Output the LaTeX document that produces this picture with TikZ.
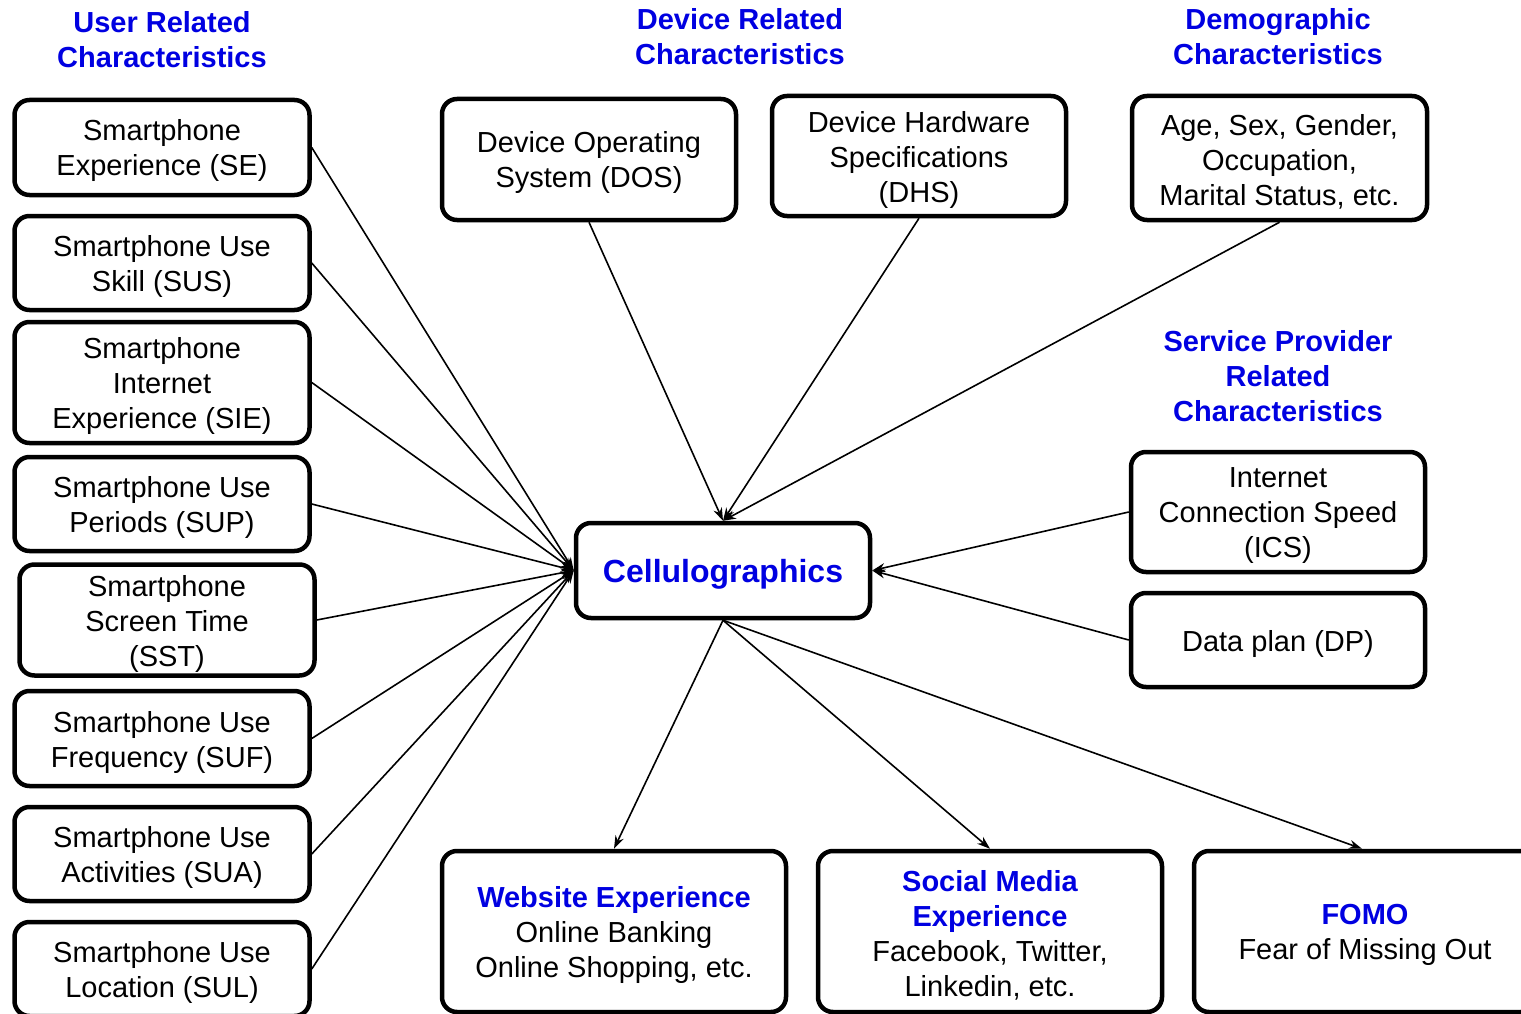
\documentclass[tikz,border=0pt]{standalone}
\usepackage{fontspec}
\setmainfont{Liberation Sans}
\usetikzlibrary{arrows.meta}
\definecolor{headblue}{RGB}{0,0,225}
\tikzset{
  box/.style={draw, line width=4.5pt, rounded corners=15pt, inner sep=0pt, fill=white},
  txt/.style={align=center, inner sep=0pt, yshift=-3.5pt, font=\fontsize{29}{35}\selectfont},
  head/.style={align=center, text=headblue, font=\fontsize{29}{35}\selectfont\bfseries},
  link/.style={line width=1.6pt, -{Stealth[length=13pt,width=9pt]}},
}
\newcommand{\hb}[1]{{\color{headblue}\bfseries #1}}
\begin{document}
\begin{tikzpicture}[x=1pt,y=-1pt]
\useasboundingbox (0,0) rectangle (1521,1014);

% group headings
\node[head] (hUser) at (162,40) {User Related\\Characteristics};
\node[head] (hDev) at (740,37) {Device Related\\Characteristics};
\node[head] (hDemo) at (1278,37) {Demographic\\Characteristics};
\node[head] (hSP) at (1278,376) {Service Provider\\Related\\Characteristics};

% user related characteristics
\node[box, minimum width=295pt, minimum height=95pt] (se) at (162,147.5) {};
\node[txt] (seT) at (se.center) {Smartphone\\Experience (SE)};
\node[box, minimum width=295pt, minimum height=94pt] (sus) at (162,263) {};
\node[txt] (susT) at (sus.center) {Smartphone Use\\Skill (SUS)};
\node[box, minimum width=295pt, minimum height=121pt] (sie) at (162,382.5) {};
\node[txt] (sieT) at (sie.center) {Smartphone\\Internet\\Experience (SIE)};
\node[box, minimum width=295pt, minimum height=94pt] (sup) at (162,504) {};
\node[txt] (supT) at (sup.center) {Smartphone Use\\Periods (SUP)};
\node[box, minimum width=295pt, minimum height=111pt] (sst) at (167,620) {};
\node[txt] (sstT) at (sst.center) {Smartphone\\Screen Time\\(SST)};
\node[box, minimum width=295pt, minimum height=95pt] (suf) at (162,738.5) {};
\node[txt] (sufT) at (suf.center) {Smartphone Use\\Frequency (SUF)};
\node[box, minimum width=295pt, minimum height=94pt] (sua) at (162,854) {};
\node[txt] (suaT) at (sua.center) {Smartphone Use\\Activities (SUA)};
\node[box, minimum width=295pt, minimum height=94pt] (sul) at (162,969) {};
\node[txt] (sulT) at (sul.center) {Smartphone Use\\Location (SUL)};

% device related and demographic characteristics
\node[box, minimum width=294pt, minimum height=121pt] (dos) at (589,159.5) {};
\node[txt] (dosT) at (dos.center) {Device Operating\\System (DOS)};
\node[box, minimum width=294pt, minimum height=120pt] (dhs) at (919,156) {};
\node[txt] (dhsT) at (dhs.center) {Device Hardware\\Specifications\\(DHS)};
\node[box, minimum width=295pt, minimum height=124pt] (demo) at (1279.5,158) {};
\node[txt] (demoT) at (demo.center) {Age, Sex, Gender,\\Occupation,\\Marital Status, etc.};

% service provider related characteristics
\node[box, minimum width=294pt, minimum height=120pt] (ics) at (1278,512) {};
\node[txt] (icsT) at (ics.center) {Internet\\Connection Speed\\(ICS)};
\node[box, minimum width=294pt, minimum height=94pt] (dp) at (1278,640) {};
\node[txt] (dpT) at (dp.center) {Data plan (DP)};

% central concept
\node[box, minimum width=294pt, minimum height=95pt] (cell) at (723,570.5) {};
\node[txt, yshift=-0.5pt, font=\fontsize{32}{38}\selectfont\bfseries, text=headblue] (cellT) at (cell.center) {Cellulographics};

% outcomes
\node[box, minimum width=344pt, minimum height=161pt] (web) at (614,931.5) {};
\node[txt] (webT) at (web.center) {\hb{Website Experience}\\Online Banking\\Online Shopping, etc.};
\node[box, minimum width=344pt, minimum height=161pt] (soc) at (990,931.5) {};
\node[txt] (socT) at (soc.center) {\hb{Social Media}\\\hb{Experience}\\Facebook, Twitter,\\Linkedin, etc.};
\node[box, minimum width=342pt, minimum height=161pt] (fomo) at (1365,931.5) {};
\node[txt] (fomoT) at (fomo.center) {\hb{FOMO}\\Fear of Missing Out};

% influences on the central concept
\foreach \n in {se,sus,sie,sup,sst,suf,sua,sul}
  \draw[link] (\n.east) -- (cell.west);
\foreach \n in {dos,dhs,demo}
  \draw[link] (\n.south) -- (cell.north);
\foreach \n in {ics,dp}
  \draw[link] (\n.west) -- (cell.east);
\foreach \n in {web,soc}
  \draw[link] (cell.south) -- (\n.north);
\draw[link] (cell.south) -- ([xshift=-3pt]fomo.north);
\end{tikzpicture}
\end{document}
